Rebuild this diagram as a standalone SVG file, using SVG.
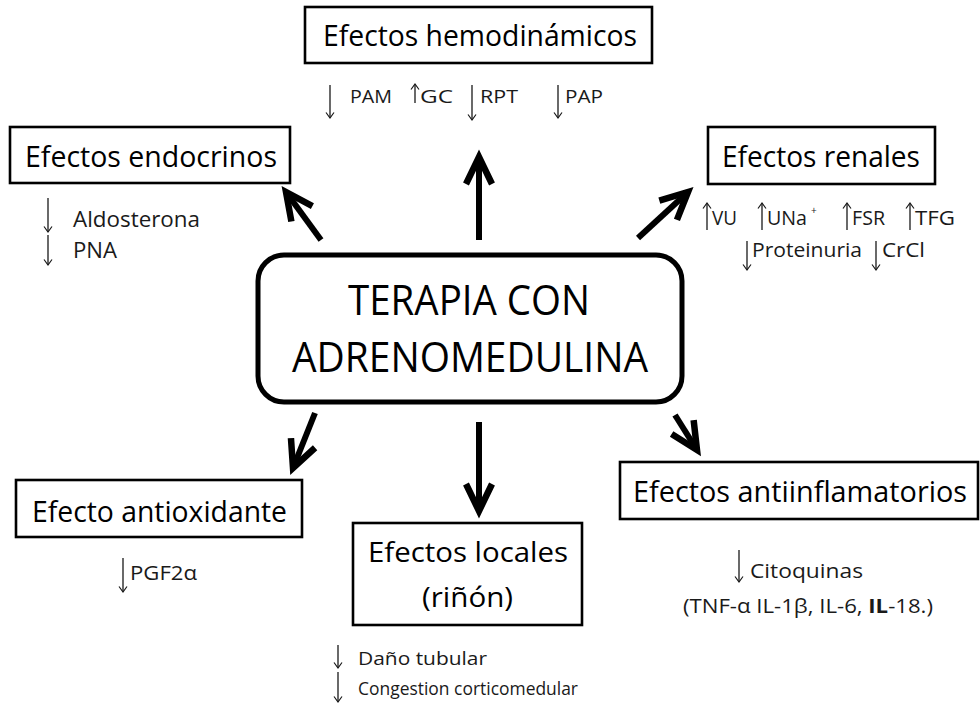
<svg xmlns="http://www.w3.org/2000/svg" width="980" height="713" viewBox="0 0 980 713">
<style>
.box{fill:#fff;stroke:#000;stroke-width:2.6}
.main{fill:#fff;stroke:#000;stroke-width:5}
.t{font-family:"Open Sans","Noto Sans","Liberation Sans",sans-serif;fill:#000}
.s{font-family:"Open Sans","Noto Sans","Liberation Sans",sans-serif;fill:#1a1a1a}
.con{stroke:#000;stroke-width:6;fill:none;marker-end:url(#big)}
.sa{stroke:#1a1a1a;stroke-width:1.3;fill:none;marker-end:url(#small)}
</style>
<defs>
<marker id="big" markerUnits="userSpaceOnUse" viewBox="-36 -20 44 40" markerWidth="44" markerHeight="40" refX="0" refY="0" orient="auto">
<path d="M-27,-13 L0,0 L-27,13" fill="none" stroke="#000" stroke-width="6.5" stroke-linejoin="miter"/>
</marker>
<marker id="small" markerUnits="userSpaceOnUse" viewBox="-8 -6 10 12" markerWidth="10" markerHeight="12" refX="0" refY="0" orient="auto">
<path d="M-5.5,-4 L0,0 L-5.5,4" fill="none" stroke="#1a1a1a" stroke-width="1.2"/>
</marker>
</defs>
<rect width="980" height="713" fill="#fff"/>

<g id="center">
<rect class="main" x="258" y="255" width="424" height="147" rx="26" ry="26"/>
<text class="t" x="348" y="315" font-size="42" textLength="242" lengthAdjust="spacingAndGlyphs">TERAPIA CON</text>
<text class="t" x="292" y="372" font-size="42" textLength="356" lengthAdjust="spacingAndGlyphs">ADRENOMEDULINA</text>
</g>

<g id="hemodinamicos">
<rect class="box" x="305" y="7" width="347" height="56"/>
<text class="t" x="323" y="46" font-size="30" textLength="314" lengthAdjust="spacingAndGlyphs">Efectos hemodinámicos</text>
<path class="sa" d="M330,85 V118"/>
<text class="s" x="350" y="103" font-size="18" textLength="42" lengthAdjust="spacingAndGlyphs">PAM</text>
<path class="sa" d="M415,103 V84"/>
<text class="s" x="420" y="103" font-size="18" textLength="33" lengthAdjust="spacingAndGlyphs">GC</text>
<path class="sa" d="M472,85 V120"/>
<text class="s" x="480" y="103" font-size="18" textLength="38" lengthAdjust="spacingAndGlyphs">RPT</text>
<path class="sa" d="M558,85 V118"/>
<text class="s" x="565" y="103" font-size="18" textLength="38" lengthAdjust="spacingAndGlyphs">PAP</text>
</g>

<g id="endocrinos">
<rect class="box" x="10" y="127" width="280" height="56"/>
<text class="t" x="25" y="167" font-size="30" textLength="252" lengthAdjust="spacingAndGlyphs">Efectos endocrinos</text>
<path class="sa" d="M48,198 V232"/>
<text class="s" x="73" y="227" font-size="22" textLength="127" lengthAdjust="spacingAndGlyphs">Aldosterona</text>
<path class="sa" d="M48,235 V265"/>
<text class="s" x="73" y="258" font-size="22" textLength="44" lengthAdjust="spacingAndGlyphs">PNA</text>
</g>

<g id="renales">
<rect class="box" x="708" y="127" width="227" height="57"/>
<text class="t" x="722" y="167" font-size="30" textLength="198" lengthAdjust="spacingAndGlyphs">Efectos renales</text>
<path class="sa" d="M707,230 V203"/>
<text class="s" x="712" y="225" font-size="20" textLength="25" lengthAdjust="spacingAndGlyphs">VU</text>
<path class="sa" d="M762,230 V203"/>
<text class="s" x="767" y="225" font-size="20" textLength="40" lengthAdjust="spacingAndGlyphs">UNa</text>
<text class="s" x="811" y="214" font-size="10">+</text>
<path class="sa" d="M847,230 V203"/>
<text class="s" x="852" y="225" font-size="20" textLength="33" lengthAdjust="spacingAndGlyphs">FSR</text>
<path class="sa" d="M910,230 V203"/>
<text class="s" x="915" y="225" font-size="20" textLength="40" lengthAdjust="spacingAndGlyphs">TFG</text>
<path class="sa" d="M747,241 V270"/>
<text class="s" x="752" y="257" font-size="20" textLength="110" lengthAdjust="spacingAndGlyphs">Proteinuria</text>
<path class="sa" d="M876,241 V270"/>
<text class="s" x="882" y="257" font-size="20" textLength="43" lengthAdjust="spacingAndGlyphs">CrCl</text>
</g>

<g id="antioxidante">
<rect class="box" x="16" y="480" width="286" height="57"/>
<text class="t" x="32" y="522" font-size="30" textLength="255" lengthAdjust="spacingAndGlyphs">Efecto antioxidante</text>
<path class="sa" d="M123,558 V592"/>
<text class="s" x="130" y="580" font-size="20" textLength="67" lengthAdjust="spacingAndGlyphs">PGF2α</text>
</g>

<g id="locales">
<rect class="box" x="353" y="523" width="229" height="102"/>
<text class="t" x="368" y="562" font-size="28" textLength="200" lengthAdjust="spacingAndGlyphs">Efectos  locales</text>
<text class="t" x="422" y="607" font-size="28" textLength="91" lengthAdjust="spacingAndGlyphs">(riñón)</text>
<path class="sa" d="M338,645 V668"/>
<text class="s" x="358" y="665" font-size="18" textLength="129" lengthAdjust="spacingAndGlyphs">Daño tubular</text>
<path class="sa" d="M338,672 V702"/>
<text class="s" x="358" y="695" font-size="18" textLength="220" lengthAdjust="spacingAndGlyphs">Congestion corticomedular</text>
</g>

<g id="antiinflamatorios">
<rect class="box" x="620" y="462" width="358" height="57"/>
<text class="t" x="633" y="502" font-size="30" textLength="334" lengthAdjust="spacingAndGlyphs">Efectos antiinflamatorios</text>
<path class="sa" d="M739,550 V582"/>
<text class="s" x="750" y="578" font-size="20" textLength="113" lengthAdjust="spacingAndGlyphs">Citoquinas</text>
<text class="s" x="683" y="613" font-size="20" textLength="250" lengthAdjust="spacingAndGlyphs">(TNF-α IL-1β, IL-6, <tspan font-weight="bold">IL</tspan>-18.)</text>
</g>

<g id="connectors">
<path class="con" d="M479,240 L479,157"/>
<path class="con" d="M321,240 L286,192"/>
<path class="con" d="M638,238 L688,192"/>
<path class="con" d="M315,413 L293,468"/>
<path class="con" d="M479,422 L479,511"/>
<path class="con" d="M675,415 L697,450"/>
</g>
</svg>
